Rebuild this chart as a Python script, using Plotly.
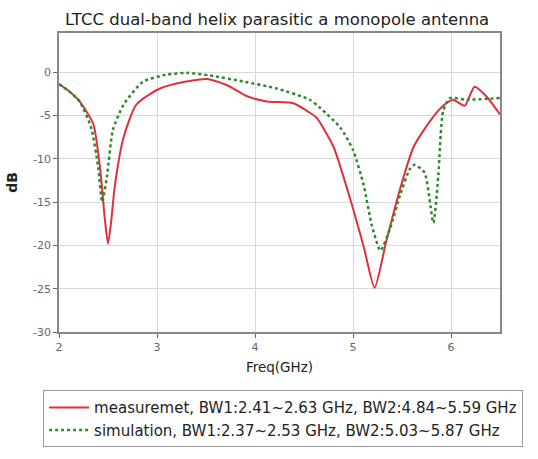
import plotly.graph_objects as go

meas_f = [2.0, 2.10, 2.21, 2.35, 2.42, 2.47, 2.50, 2.53, 2.57, 2.66, 2.79, 3.03, 3.30, 3.51, 3.71, 3.92, 4.12, 4.39, 4.56,
          4.63, 4.80, 4.97, 5.11, 5.22, 5.34, 5.48, 5.62, 5.79, 5.92, 6.02, 6.14, 6.24, 6.36, 6.50]
meas_db = [-1.4, -2.2, -3.4, -6.0, -11.2, -17.2, -19.8, -17.5, -13.1, -7.5, -3.75, -1.9, -1.1, -0.8, -1.5, -2.8, -3.4, -3.6, -4.7,
           -5.3, -8.6, -14.6, -20.2, -24.9, -19.5, -13.5, -8.6, -5.6, -3.9, -3.2, -3.9, -1.7, -2.8, -4.9]

sim_f = [2.0, 2.10, 2.21, 2.33, 2.40, 2.44, 2.49, 2.55, 2.66, 2.86, 3.10, 3.30, 3.54, 3.88, 4.22, 4.56,
         4.66, 4.87, 5.00, 5.11, 5.19, 5.28, 5.38, 5.48, 5.58, 5.63, 5.73, 5.82, 5.87, 5.92, 5.99, 6.16, 6.50]
sim_db = [-1.4, -2.2, -3.4, -6.5, -11.0, -15.0, -12.0, -6.7, -3.75, -1.1, -0.3, -0.1, -0.4, -1.1, -1.9, -3.2,
          -4.1, -6.4, -9.0, -13.1, -17.6, -20.6, -18.0, -14.2, -11.2, -10.7, -11.6, -17.4, -12.0, -4.5, -3.0, -3.2, -3.0]

meas_name = "measuremet, BW1:2.41~2.63 GHz, BW2:4.84~5.59 GHz"
sim_name = "simulation, BW1:2.37~2.53 GHz, BW2:5.03~5.87 GHz"

x_ticks = [2, 3, 4, 5, 6]
y_ticks = [0, -5, -10, -15, -20, -25, -30]

FONT = "DejaVu Sans, Verdana, sans-serif"

fig = go.Figure()
fig.add_trace(go.Scatter(x=meas_f, y=meas_db, mode="lines", name=meas_name,
                         line=dict(color="#e0303c", width=2, shape="spline", smoothing=0.6)))
fig.add_trace(go.Scatter(x=sim_f, y=sim_db, mode="lines", name=sim_name,
                         line=dict(color="#2a8a2a", width=2.5, dash="dot", shape="spline", smoothing=0.6)))

fig.update_layout(
    width=538, height=459,
    margin=dict(l=59, r=38, t=33, b=119),
    paper_bgcolor="white", plot_bgcolor="white",
    font=dict(family=FONT, color="#333"),
    title=dict(text="LTCC dual-band helix parasitic a monopole antenna",
               x=0.515, xanchor="center", y=0.958, yanchor="middle",
               font=dict(size=16.5, color="#222")),
    showlegend=True,
    legend=dict(x=-0.036, xanchor="left", y=-0.195, yanchor="top",
                bordercolor="#999", borderwidth=1, bgcolor="white",
                itemwidth=40,
                font=dict(size=15, color="#222"), tracegroupgap=0),
)
fig.update_xaxes(range=[2, 6.5], tickvals=x_ticks, ticktext=[str(v) for v in x_ticks],
                 showgrid=True, gridcolor="#d9d9d9", gridwidth=1,
                 showline=True, linecolor="#888", linewidth=1.5, mirror=True,
                 ticks="outside", ticklen=4, tickcolor="#666",
                 tickfont=dict(size=11, color="#666"),
                 title=dict(text="Freq(GHz)", font=dict(size=13.5, color="#222"), standoff=10),
                 zeroline=False)
fig.update_yaxes(range=[-30, 4.5], tickvals=y_ticks, ticktext=[str(v) for v in y_ticks],
                 showgrid=True, gridcolor="#d9d9d9", gridwidth=1,
                 showline=True, linecolor="#888", linewidth=1.5, mirror=True,
                 ticks="outside", ticklen=4, tickcolor="#666",
                 tickfont=dict(size=11, color="#666"),
                 title=dict(text="<b>dB</b>", font=dict(size=14, color="#222"), standoff=12),
                 zeroline=False)

fig.write_html("out.html")
